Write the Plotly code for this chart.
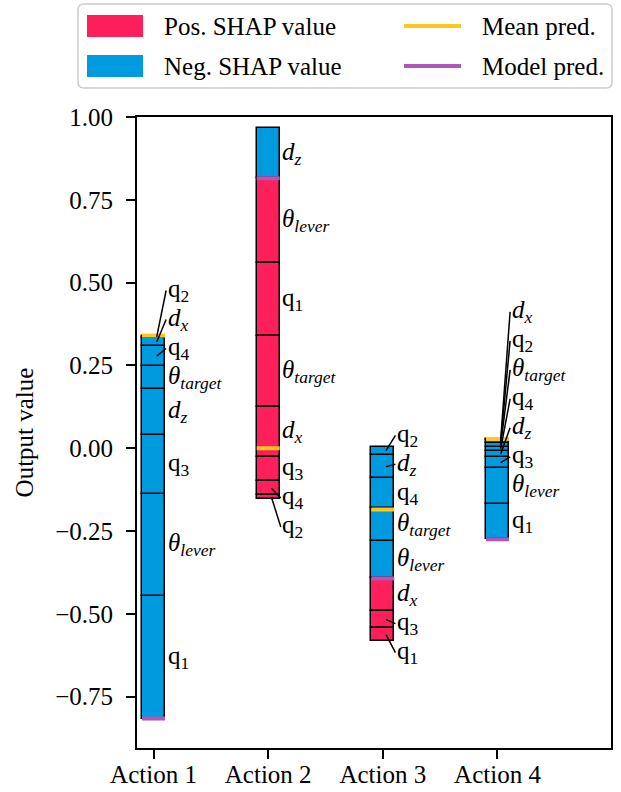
import plotly.graph_objects as go

# ---------------- data ----------------
actions = ["Action 1", "Action 2", "Action 3", "Action 4"]
feature_labels = ["q<sub>1</sub>", "q<sub>2</sub>", "q<sub>3</sub>", "q<sub>4</sub>",
                  "<i>d<sub>x</sub></i>", "<i>d<sub>z</sub></i>",
                  "<i>θ<sub>target</sub></i>", "<i>θ<sub>lever</sub></i>"]
# SHAP values per action, in order of feature_labels
shap_a1 = [-0.371, -0.008, -0.176, -0.062, -0.023, -0.141, -0.067, -0.308]
shap_a2 = [0.218, 0.010, 0.075, 0.042, 0.149, -0.152, 0.216, 0.257]
shap_a3 = [0.040, -0.025, 0.052, -0.090, 0.098, -0.071, -0.100, -0.112]
shap_a4 = [-0.108, -0.0085, -0.033, -0.013, -0.0045, -0.019, -0.010, -0.107]
shap_values = [shap_a1, shap_a2, shap_a3, shap_a4]
mean_pred = [0.340, 0.000, -0.185, 0.028]
y_ticks = [-0.75, -0.50, -0.25, 0.00, 0.25, 0.50, 0.75, 1.00]

# ---------------- style ----------------
RED, BLUE, ORANGE, PURPLE = "#FF1F5B", "#009ADE", "#FFC61E", "#AF58BA"
FONT = "Liberation Serif, Times New Roman, serif"
FS = 25
W, H = 621, 792
L, R, T, B = 137, 10, 117, 44
plot_w, plot_h = W - L - R, H - T - B
YR = [-0.905, 1.0]
XR = [-0.144, 3.99]
BW = 0.2
px_per_unit = plot_h / (YR[1] - YR[0])
GAP = 29 / px_per_unit


def pxx(px):
    return (px - L) / plot_w


def pxy(py):
    return (H - B - py) / plot_h


fig = go.Figure()
shapes = []
annotations = []

pos_x, pos_b, pos_h = [], [], []
neg_x, neg_b, neg_h = [], [], []
mean_x, mean_y, model_x, model_y = [], [], [], []

for i, vals in enumerate(shap_values):
    base = mean_pred[i]
    fx = base + sum(vals)
    idx = sorted(range(len(vals)), key=lambda k: -abs(vals[k]))
    centers = {}
    top = fx
    for k in idx:
        if vals[k] > 0:
            pos_x.append(i); pos_b.append(top - vals[k]); pos_h.append(vals[k])
            centers[k] = top - vals[k] / 2
            top -= vals[k]
    bot = fx
    for k in idx:
        if vals[k] < 0:
            m = -vals[k]
            neg_x.append(i); neg_b.append(bot); neg_h.append(m)
            centers[k] = bot + m / 2
            bot += m
    mean_x += [i - BW / 2, i + BW / 2, None]; mean_y += [base, base, None]
    model_x += [i - BW / 2, i + BW / 2, None]; model_y += [fx, fx, None]

    # label placement: larger contributions first, keep order, push others away
    placed = []  # (label_y, natural_y)
    for k in idx:
        n = centers[k]
        cands = [n] + [p + GAP for p, _ in placed] + [p - GAP for p, _ in placed]
        valid = [c for c in cands
                 if all(abs(c - p) >= GAP - 1e-9 and (c - p) * (n - pn) >= 0 for p, pn in placed)]
        yl = min(valid, key=lambda c: abs(c - n))
        placed.append((yl, n))
        annotations.append(dict(x=i + 0.105, y=yl, xref="x", yref="y", text=feature_labels[k],
                                showarrow=False, xanchor="left", yanchor="middle",
                                font=dict(family=FONT, size=FS, color="black")))
        if abs(yl - n) > 0.5 / px_per_unit:
            shapes.append(dict(type="line", xref="x", yref="y", x0=i + 0.028, y0=n,
                               x1=i + 0.11, y1=yl, line=dict(color="black", width=1.5), layer="above"))

fig.add_trace(go.Bar(x=pos_x, base=pos_b, y=pos_h, width=BW,
                     marker=dict(color=RED, line=dict(color="black", width=1.5)), showlegend=False))
fig.add_trace(go.Bar(x=neg_x, base=neg_b, y=neg_h, width=BW,
                     marker=dict(color=BLUE, line=dict(color="black", width=1.5)), showlegend=False))
fig.add_trace(go.Scatter(x=mean_x, y=mean_y, mode="lines", line=dict(color=ORANGE, width=4),
                         showlegend=False))
fig.add_trace(go.Scatter(x=model_x, y=model_y, mode="lines", line=dict(color=PURPLE, width=4),
                         showlegend=False))

# ---------------- custom legend ----------------
x0, x1, y0, y1, r = 78, 612, 4, 88, 6
path = (f"M {pxx(x0 + r)},{pxy(y0)} L {pxx(x1 - r)},{pxy(y0)} Q {pxx(x1)},{pxy(y0)} {pxx(x1)},{pxy(y0 + r)} "
        f"L {pxx(x1)},{pxy(y1 - r)} Q {pxx(x1)},{pxy(y1)} {pxx(x1 - r)},{pxy(y1)} "
        f"L {pxx(x0 + r)},{pxy(y1)} Q {pxx(x0)},{pxy(y1)} {pxx(x0)},{pxy(y1 - r)} "
        f"L {pxx(x0)},{pxy(y0 + r)} Q {pxx(x0)},{pxy(y0)} {pxx(x0 + r)},{pxy(y0)} Z")
shapes.append(dict(type="path", xref="paper", yref="paper", path=path,
                   line=dict(color="#cccccc", width=1.5), fillcolor="white"))
legend_items = [("Pos. SHAP value", RED, "patch", 87, 26), ("Neg. SHAP value", BLUE, "patch", 87, 66),
                ("Mean pred.", ORANGE, "line", 404, 26), ("Model pred.", PURPLE, "line", 404, 66)]
for text, col, kind, lx, ly in legend_items:
    if kind == "patch":
        shapes.append(dict(type="rect", xref="paper", yref="paper", x0=pxx(lx), x1=pxx(lx + 56),
                           y0=pxy(ly - 11), y1=pxy(ly + 11), fillcolor=col, line=dict(width=0)))
        tx = lx + 75
    else:
        shapes.append(dict(type="line", xref="paper", yref="paper", x0=pxx(lx), x1=pxx(lx + 57),
                           y0=pxy(ly), y1=pxy(ly), line=dict(color=col, width=4)))
        tx = lx + 76
    annotations.append(dict(x=pxx(tx), y=pxy(ly), xref="paper", yref="paper", text=text,
                            showarrow=False, xanchor="left", yanchor="middle",
                            font=dict(family=FONT, size=FS, color="black")))

axis_common = dict(showline=True, linecolor="black", linewidth=2, mirror=True, ticks="outside",
                   ticklen=9, tickwidth=2, tickcolor="black", showgrid=False, zeroline=False,
                   automargin=False, tickfont=dict(family=FONT, size=FS, color="black"))

fig.update_layout(
    width=W, height=H, margin=dict(l=L, r=R, t=T, b=B, pad=0, autoexpand=False),
    paper_bgcolor="white", plot_bgcolor="white", barmode="overlay", bargap=0,
    font=dict(family=FONT, size=FS, color="black"),
    shapes=shapes, annotations=annotations,
    xaxis=dict(range=XR, tickvals=list(range(len(actions))), ticktext=actions,
               ticklabelstandoff=-6, **axis_common),
    yaxis=dict(range=YR, tickvals=y_ticks,
               ticktext=[f"{v:.2f}".replace("-", "\u2212") for v in y_ticks],
               ticklabelstandoff=8,
               title=dict(text="Output value", font=dict(family=FONT, size=FS, color="black"), standoff=14),
               **axis_common),
)

fig.write_html("out.html")
